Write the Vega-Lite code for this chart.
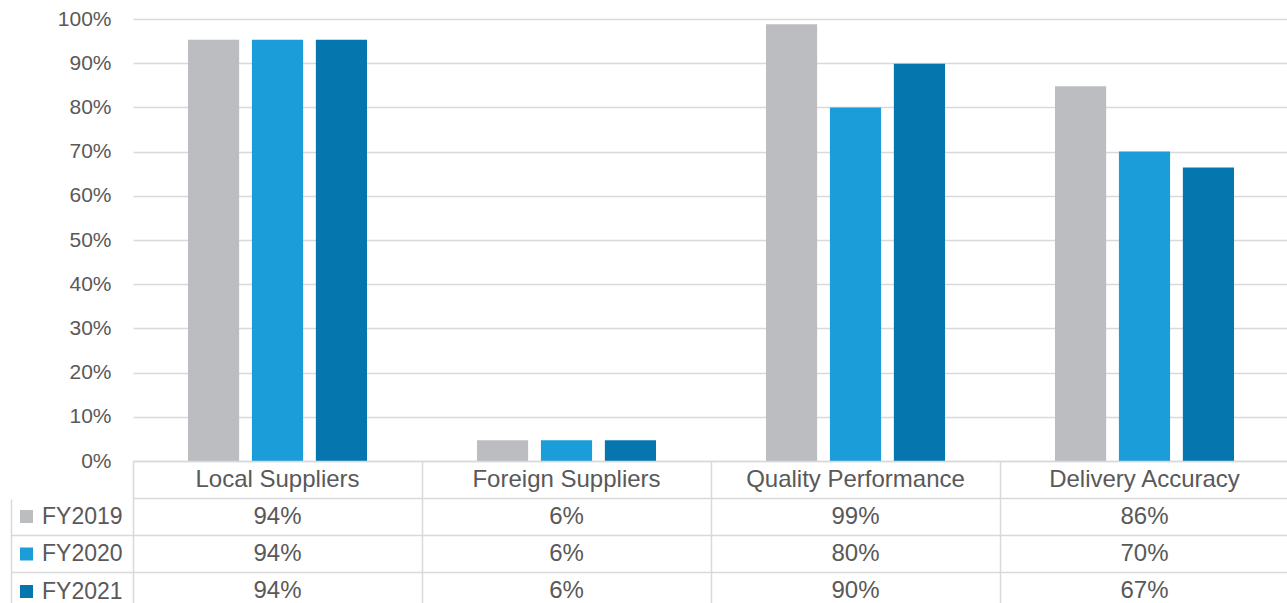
{
  "$schema": "https://vega.github.io/schema/vega-lite/v6.json",
  "padding": {"left": 10, "top": 8, "right": 0, "bottom": 0},
  "autosize": {"type": "pad"},
  "bounds": "flush",
  "spacing": 0,
  "config": {
    "font": "Liberation Sans",
    "view": {"stroke": null},
    "text": {"font": "Liberation Sans", "fontSize": 24, "color": "#595959"}
  },
  "data": {
    "values": [
      {"category": "Local Suppliers", "year": "FY2019", "value": 0.953, "label": "94%"},
      {"category": "Local Suppliers", "year": "FY2020", "value": 0.953, "label": "94%"},
      {"category": "Local Suppliers", "year": "FY2021", "value": 0.953, "label": "94%"},
      {"category": "Foreign Suppliers", "year": "FY2019", "value": 0.047, "label": "6%"},
      {"category": "Foreign Suppliers", "year": "FY2020", "value": 0.047, "label": "6%"},
      {"category": "Foreign Suppliers", "year": "FY2021", "value": 0.047, "label": "6%"},
      {"category": "Quality Performance", "year": "FY2019", "value": 0.988, "label": "99%"},
      {"category": "Quality Performance", "year": "FY2020", "value": 0.8, "label": "80%"},
      {"category": "Quality Performance", "year": "FY2021", "value": 0.899, "label": "90%"},
      {"category": "Delivery Accuracy", "year": "FY2019", "value": 0.848, "label": "86%"},
      {"category": "Delivery Accuracy", "year": "FY2020", "value": 0.7, "label": "70%"},
      {"category": "Delivery Accuracy", "year": "FY2021", "value": 0.664, "label": "67%"}
    ]
  },
  "vconcat": [
    {
      "width": 1156,
      "height": 442,
      "mark": {"type": "bar"},
      "encoding": {
        "x": {
          "field": "category", "type": "nominal",
          "sort": ["Local Suppliers", "Foreign Suppliers", "Quality Performance", "Delivery Accuracy"],
          "scale": {"paddingInner": 0, "paddingOuter": 0},
          "axis": null
        },
        "xOffset": {
          "field": "year", "type": "nominal",
          "sort": ["FY2019", "FY2020", "FY2021"],
          "scale": {"paddingInner": 0.2, "paddingOuter": 0.86}
        },
        "y": {
          "field": "value", "type": "quantitative",
          "scale": {"domain": [0, 1]},
          "axis": {
            "values": [0, 0.1, 0.2, 0.3, 0.4, 0.5, 0.6, 0.7, 0.8, 0.9, 1],
            "format": ".0%",
            "grid": true, "gridColor": "#d9d9d9", "gridWidth": 1.5,
            "domain": false, "ticks": false,
            "labelFontSize": 21, "labelColor": "#595959", "labelPadding": 22,
            "labelFont": "Liberation Sans",
            "title": null
          }
        },
        "color": {
          "field": "year", "type": "nominal",
          "scale": {"domain": ["FY2019", "FY2020", "FY2021"], "range": ["#bcbdc0", "#1b9dd9", "#0676af"]},
          "legend": {
            "orient": "none", "legendX": -118, "legendY": 486,
            "direction": "vertical", "title": null,
            "symbolType": "square", "symbolSize": 169, "symbolStrokeWidth": 0,
            "labelFontSize": 23, "labelColor": "#595959", "labelFont": "Liberation Sans",
            "labelOffset": 4, "rowPadding": 13.5
          }
        }
      }
    },
    {
      "width": 1156,
      "height": 148,
      "encoding": {
        "x": {
          "field": "category", "type": "nominal",
          "sort": ["Local Suppliers", "Foreign Suppliers", "Quality Performance", "Delivery Accuracy"],
          "scale": {"paddingInner": 0, "paddingOuter": 0},
          "axis": {
            "orient": "top", "grid": true, "tickBand": "extent",
            "labels": false, "ticks": false, "domain": false, "title": null,
            "gridColor": "#d9d9d9", "gridWidth": 1.5
          }
        }
      },
      "layer": [
        {
          "transform": [{"filter": "datum.year === 'FY2019'"}],
          "mark": {"type": "text"},
          "encoding": {
            "y": {
              "datum": "Category", "type": "nominal",
              "scale": {"domain": ["Category", "FY2019", "FY2020", "FY2021"], "paddingInner": 0, "paddingOuter": 0},
              "axis": {
                "orient": "left", "grid": true, "tickBand": "extent",
                "labels": false, "ticks": true, "tickSize": -122, "offset": 122,
                "tickColor": {"condition": {"test": "datum.index <= 0 || datum.value === 'Category'", "value": "transparent"}, "value": "#d9d9d9"},
                "tickWidth": 1.5,
                "domain": true, "domainColor": "#d9d9d9", "domainWidth": 1.5,
                "domainDash": [110, 38], "domainDashOffset": 110,
                "gridColor": "#d9d9d9", "gridWidth": 1.5,
                "title": null
              }
            },
            "text": {"field": "category", "type": "nominal"}
          }
        },
        {
          "mark": {"type": "text"},
          "encoding": {
            "y": {"field": "year", "type": "nominal"},
            "text": {"field": "label", "type": "nominal"}
          }
        }
      ]
    }
  ]
}
